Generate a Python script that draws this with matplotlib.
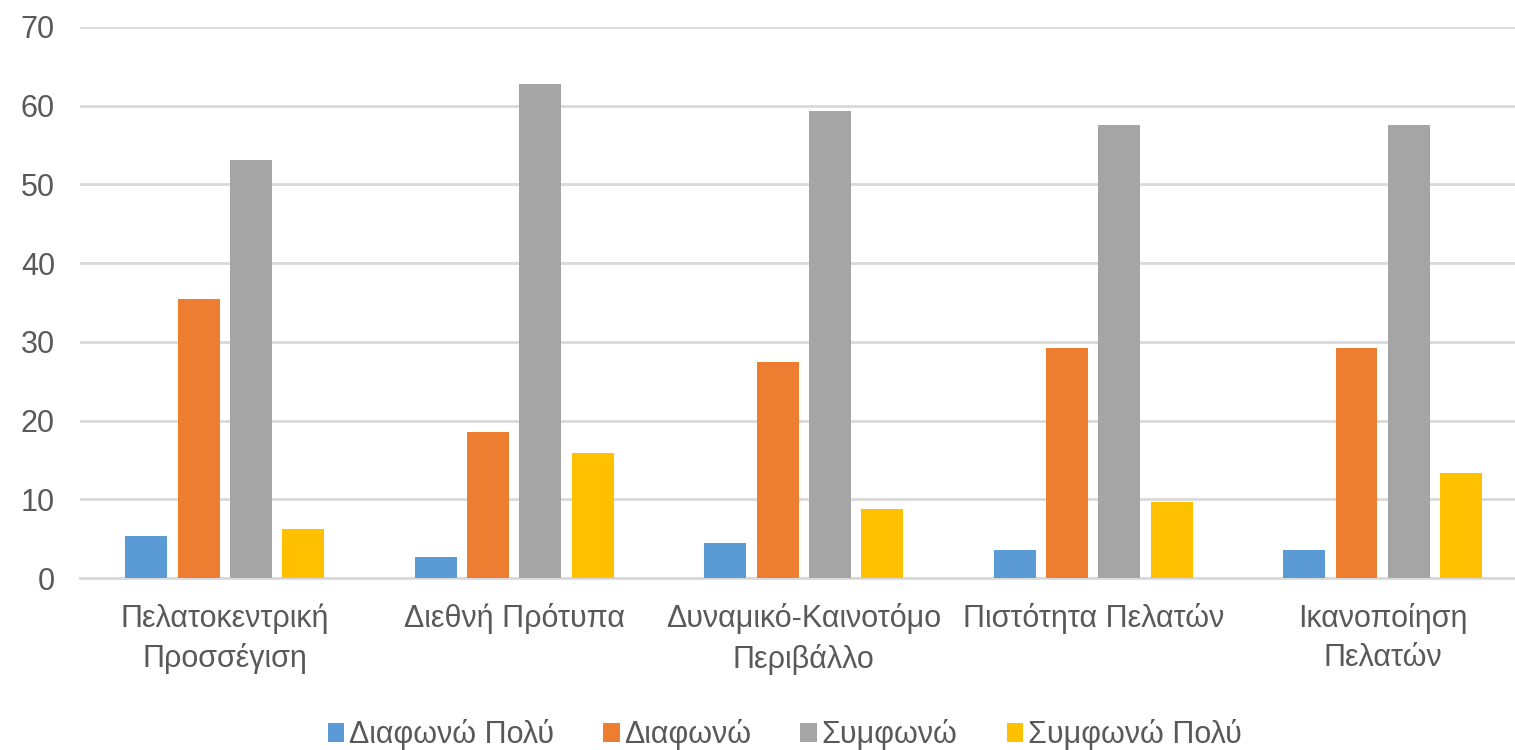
import numpy as np
import matplotlib
matplotlib.use("Agg")
import matplotlib.pyplot as plt

plt.rcParams['font.family'] = ['Liberation Sans', 'DejaVu Sans']

# Data
categories = ["Πελατοκεντρική\nΠροσσέγιση", "Διεθνή Πρότυπα", "Δυναμικό-Καινοτόμο\nΠεριβάλλο",
              "Πιστότητα Πελατών", "Ικανοποίηση\nΠελατών"]
series_names = ["Διαφωνώ Πολύ", "Διαφωνώ", "Συμφωνώ", "Συμφωνώ Πολύ"]
diafono_poly = [5.3, 2.7, 4.4, 3.5, 3.5]
diafono = [35.4, 18.6, 27.4, 29.2, 29.2]
symfono = [53.1, 62.8, 59.3, 57.5, 57.5]
symfono_poly = [6.2, 15.9, 8.8, 9.7, 13.3]
yticks = [0, 10, 20, 30, 40, 50, 60, 70]

colors = ['#5B9BD5', '#ED7D31', '#A5A5A5', '#FFC000']
text_color = '#595959'

fig = plt.figure(figsize=(15.15, 7.5), dpi=100)
ax = fig.add_axes([80 / 1515, 1 - 578 / 750, 1 - 80 / 1515, (578 - 27) / 750])

x = np.arange(len(categories))
pitch = 0.181
width = 0.145
all_series = [diafono_poly, diafono, symfono, symfono_poly]
for i, (vals, name) in enumerate(zip(all_series, series_names)):
    ax.bar(x + (i - 1.5) * pitch, vals, width, color=colors[i], label=name, zorder=3)

ax.set_ylim(0, 70)
ax.set_xlim(-0.5, 4.457)
ax.set_yticks(yticks)
ax.yaxis.grid(True, color='#D9D9D9', linewidth=2, zorder=0)
ax.set_xticks(x)
ax.set_xticklabels(categories, fontsize=22, color=text_color, linespacing=1.4)
ax.tick_params(axis='y', labelsize=22, labelcolor=text_color, length=0, pad=18)
ax.tick_params(axis='x', length=0, pad=18)
for s in ['top', 'right', 'left']:
    ax.spines[s].set_visible(False)
ax.spines['bottom'].set_color('#D9D9D9')
ax.spines['bottom'].set_linewidth(2)

fig.legend(loc='lower center', ncol=4, frameon=False, fontsize=22,
           bbox_to_anchor=(0.518, -0.037), handlelength=0.55, handleheight=0.55,
           handletextpad=0.15, columnspacing=1.6, labelcolor=text_color)

fig.savefig("out.png", dpi=100)
